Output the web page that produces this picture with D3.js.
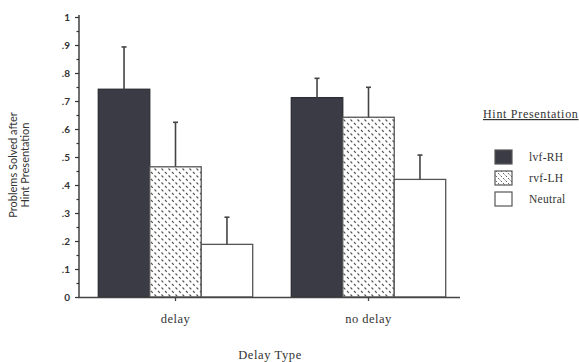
<!DOCTYPE html>
<html><head><meta charset="utf-8">
<script src="https://cdn.jsdelivr.net/npm/d3@7"></script>
<style>body{margin:0;background:#fff}svg{display:block}</style>
</head><body>
<svg id="c" width="579" height="362"></svg>
<script>
const categories = ["delay", "no delay"];
const seriesNames = ["lvf-RH", "rvf-LH", "Neutral"];
const lvfRH = [0.742, 0.712];
const rvfLH = [0.465, 0.642];
const neutral = [0.188, 0.420];
const errLvfRH = [0.893, 0.781];
const errRvfLH = [0.624, 0.749];
const errNeutral = [0.285, 0.507];
const yTicks = [0, 0.1, 0.2, 0.3, 0.4, 0.5, 0.6, 0.7, 0.8, 0.9, 1];
const yTickLabels = ["0", ".1", ".2", ".3", ".4", ".5", ".6", ".7", ".8", ".9", "1"];
const yMinorTicks = [0.05, 0.15, 0.25, 0.35, 0.45, 0.55, 0.65, 0.75, 0.85, 0.95];

const values = [lvfRH, rvfLH, neutral];
const errs = [errLvfRH, errRvfLH, errNeutral];

const svg = d3.select("#c");
const defs = svg.append("defs");
const pat = defs.append("pattern").attr("id", "dash").attr("patternUnits", "userSpaceOnUse")
  .attr("width", 7).attr("height", 7);
pat.append("rect").attr("width", 7).attr("height", 7).attr("fill", "#fff");
pat.append("path").attr("d", "M0.5,0.5 L2.3,2.3 M4,4 L5.8,5.8")
  .attr("stroke", "#555").attr("stroke-width", 1.2);
const pat2 = defs.append("pattern").attr("id", "dash2").attr("patternUnits", "userSpaceOnUse")
  .attr("width", 5).attr("height", 5);
pat2.append("rect").attr("width", 5).attr("height", 5).attr("fill", "#fff");
pat2.append("path").attr("d", "M0.5,0.5 L2,2 M3,3 L4.5,4.5").attr("stroke", "#666").attr("stroke-width", 1);

const fills = ["#3b3b45", "url(#dash)", "#ffffff"];
const strokes = ["#2e2e36", "#555", "#555"];

const y = d3.scaleLinear().domain([0, 1]).range([297, 17]);
const x0 = d3.scaleBand().domain(categories).range([79, 465]).paddingInner(0.2).paddingOuter(0.1);
const x1 = d3.scaleBand().domain(seriesNames).range([0, x0.bandwidth()]);

// bars
categories.forEach((c, ci) => {
  seriesNames.forEach((s, si) => {
    const v = values[si][ci];
    const bx = x0(c) + x1(s);
    svg.append("rect").attr("x", bx).attr("y", y(v))
      .attr("width", x1.bandwidth()).attr("height", y(0) - y(v))
      .attr("fill", fills[si]).attr("stroke", strokes[si]).attr("stroke-width", 1.3);
    const cx = bx + x1.bandwidth() / 2;
    svg.append("line").attr("x1", cx).attr("x2", cx).attr("y1", y(v)).attr("y2", y(errs[si][ci]))
      .attr("stroke", "#444").attr("stroke-width", 1.6);
    svg.append("line").attr("x1", cx - 2.5).attr("x2", cx + 2.5).attr("y1", y(errs[si][ci])).attr("y2", y(errs[si][ci]))
      .attr("stroke", "#444").attr("stroke-width", 1.6);
  });
});

// y axis
const ya = svg.append("g").attr("transform", "translate(79,0)")
  .call(d3.axisLeft(y).tickValues(yTicks).tickFormat((d, i) => yTickLabels[i]).tickSize(4).tickPadding(5));
ya.select(".domain").remove();
ya.selectAll("line").attr("stroke", "#333").attr("stroke-width", 1.2);
ya.selectAll("text").attr("font-family", "Lato, 'Open Sans', sans-serif").attr("font-size", 10)
  .attr("font-weight", "bold").attr("fill", "#333");
const ym = svg.append("g").attr("transform", "translate(79,0)")
  .call(d3.axisLeft(y).tickValues(yMinorTicks).tickFormat("").tickSize(2.5));
ym.select(".domain").remove();
ym.selectAll("line").attr("stroke", "#333").attr("stroke-width", 1.2);
svg.append("line").attr("x1", 79).attr("x2", 79).attr("y1", 15).attr("y2", 298)
  .attr("stroke", "#333").attr("stroke-width", 1.4);

// x axis
svg.append("line").attr("x1", 78).attr("x2", 460).attr("y1", 297.5).attr("y2", 297.5)
  .attr("stroke", "#444").attr("stroke-width", 1.5);
const xa = svg.append("g").attr("transform", "translate(0,297)")
  .call(d3.axisBottom(x0).tickSize(4).tickPadding(13));
xa.select(".domain").remove();
xa.selectAll("line").attr("stroke", "#444").attr("stroke-width", 1.3);
xa.selectAll("text").attr("font-family", "'Liberation Serif', serif").attr("font-size", 12.5)
  .attr("letter-spacing", 0.5).attr("fill", "#333");

// axis titles
svg.append("text").attr("x", 270).attr("y", 359).attr("text-anchor", "middle")
  .attr("font-family", "'Liberation Serif', serif").attr("font-size", 12.5).attr("letter-spacing", 0.6)
  .attr("fill", "#333").text("Delay Type");
const yl = svg.append("text").attr("transform", "translate(0,165) rotate(-90)")
  .attr("text-anchor", "middle").attr("font-family", "Lato, 'Open Sans', sans-serif")
  .attr("font-size", 11).attr("fill", "#333");
yl.append("tspan").attr("x", 0).attr("y", 17).text("Problems Solved after");
yl.append("tspan").attr("x", 0).attr("y", 29).text("Hint Presentation");

// legend
svg.append("text").attr("x", 483).attr("y", 118).attr("font-family", "'Liberation Serif', serif")
  .attr("font-size", 12).attr("letter-spacing", 0.7).attr("fill", "#333")
  .attr("text-decoration", "underline").text("Hint Presentation");
const legFills = ["#3b3b45", "url(#dash2)", "#ffffff"];
seriesNames.forEach((s, i) => {
  const ly = 150 + i * 21;
  svg.append("rect").attr("x", 495).attr("y", ly).attr("width", 17).attr("height", 14)
    .attr("fill", legFills[i]).attr("stroke", "#555").attr("stroke-width", 1.2);
  svg.append("text").attr("x", 529).attr("y", ly + 11).attr("font-family", "'Liberation Serif', serif")
    .attr("font-size", 11.5).attr("letter-spacing", 0.3).attr("fill", "#333").text(s);
});
</script>
</body></html>
